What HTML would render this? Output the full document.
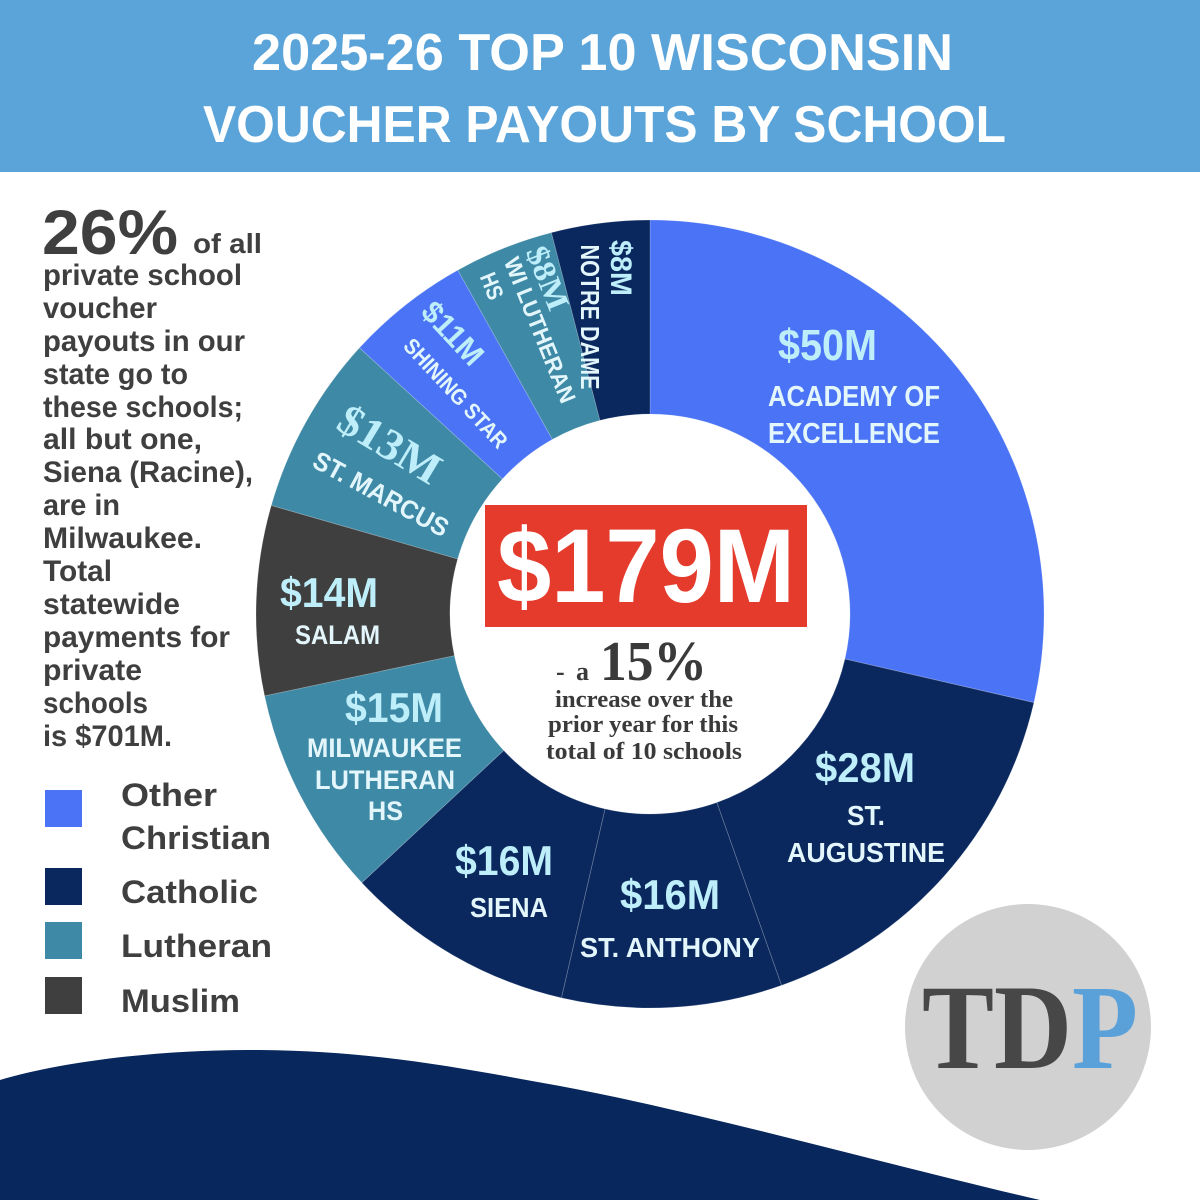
<!DOCTYPE html>
<html>
<head>
<meta charset="utf-8">
<style>
  html,body{margin:0;padding:0;background:#ffffff;}
  svg{display:block;}
  .sans{font-family:"Liberation Sans", Arial, sans-serif;font-weight:bold;}
  .serif{font-family:"Liberation Serif", "Times New Roman", serif;font-weight:bold;}
</style>
</head>
<body>
<svg width="1200" height="1200" viewBox="0 0 1200 1200" xmlns="http://www.w3.org/2000/svg">
  <rect x="0" y="0" width="1200" height="1200" fill="#ffffff"/>

  <!-- Header -->
  <rect x="0" y="0" width="1200" height="172" fill="#5aa4d9"/>
  <text class="sans" x="252" y="70" font-size="52" fill="#ffffff" textLength="701" lengthAdjust="spacingAndGlyphs">2025-26 TOP 10 WISCONSIN</text>
  <text class="sans" x="203" y="142" font-size="52" fill="#ffffff" textLength="803" lengthAdjust="spacingAndGlyphs">VOUCHER PAYOUTS BY SCHOOL</text>

  <!-- Bottom wave -->
  <path d="M0,1080 C60,1062 160,1049 260,1050 C380,1051 470,1070 560,1086 C700,1112 900,1168 1040,1200 L0,1200 Z" fill="#07275d"/>

  <!-- TDP logo -->
  <circle cx="1028" cy="1027" r="123" fill="#d1d1d1"/>
  <text class="serif" x="922" y="1068" font-size="121" fill="#474747" textLength="216" lengthAdjust="spacingAndGlyphs">TD<tspan fill="#5aa1da">P</tspan></text>

  <!-- Donut slices -->
  <g stroke="#ffffff" stroke-opacity="0.22" stroke-width="0.8">
    <path d="M650,220 A394,394 0 0 1 1033.9,702.6 L844.9,659.0 A200,200 0 0 0 650,414 Z" fill="#4a73f5"/>
    <path d="M1033.9,702.6 A394,394 0 0 1 781.5,985.4 L716.8,802.5 A200,200 0 0 0 844.9,659.0 Z" fill="#0a285e"/>
    <path d="M781.5,985.4 A394,394 0 0 1 561.4,997.9 L605.0,808.9 A200,200 0 0 0 716.8,802.5 Z" fill="#0a285e"/>
    <path d="M561.4,997.9 A394,394 0 0 1 361.8,882.7 L503.7,750.4 A200,200 0 0 0 605.0,808.9 Z" fill="#0a285e"/>
    <path d="M361.8,882.7 A394,394 0 0 1 264.6,695.9 L454.4,655.6 A200,200 0 0 0 503.7,750.4 Z" fill="#3e89a5"/>
    <path d="M264.6,695.9 A394,394 0 0 1 271.3,505.4 L457.7,558.9 A200,200 0 0 0 454.4,655.6 Z" fill="#3f3f3f"/>
    <path d="M271.3,505.4 A394,394 0 0 1 359.5,347.8 L502.5,478.9 A200,200 0 0 0 457.7,558.9 Z" fill="#3e89a5"/>
    <path d="M359.5,347.8 A394,394 0 0 1 457.8,270.1 L552.4,439.4 A200,200 0 0 0 502.5,478.9 Z" fill="#4a73f5"/>
    <path d="M457.8,270.1 A394,394 0 0 1 551.4,232.6 L599.9,420.4 A200,200 0 0 0 552.4,439.4 Z" fill="#3e89a5"/>
    <path d="M551.4,232.6 A394,394 0 0 1 650,220 L650,414 A200,200 0 0 0 599.9,420.4 Z" fill="#0a285e"/>
  </g>

  <!-- Slice labels (horizontal) -->
  <g class="sans">
    <text x="778" y="360" font-size="44" fill="#bdeefa" textLength="99" lengthAdjust="spacingAndGlyphs">$50M</text>
    <text x="768" y="406" font-size="29" fill="#e3f6fb" textLength="172" lengthAdjust="spacingAndGlyphs">ACADEMY OF</text>
    <text x="768" y="443" font-size="29" fill="#e3f6fb" textLength="172" lengthAdjust="spacingAndGlyphs">EXCELLENCE</text>

    <text x="815" y="782" font-size="42" fill="#bdeefa" textLength="100" lengthAdjust="spacingAndGlyphs">$28M</text>
    <text x="847" y="825" font-size="28" fill="#e3f6fb" textLength="38" lengthAdjust="spacingAndGlyphs">ST.</text>
    <text x="787" y="862" font-size="28" fill="#e3f6fb" textLength="158" lengthAdjust="spacingAndGlyphs">AUGUSTINE</text>

    <text x="620" y="909" font-size="42" fill="#bdeefa" textLength="100" lengthAdjust="spacingAndGlyphs">$16M</text>
    <text x="580" y="957" font-size="28" fill="#e3f6fb" textLength="180" lengthAdjust="spacingAndGlyphs">ST. ANTHONY</text>

    <text x="455" y="875" font-size="42" fill="#bdeefa" textLength="98" lengthAdjust="spacingAndGlyphs">$16M</text>
    <text x="470" y="917" font-size="28" fill="#e3f6fb" textLength="78" lengthAdjust="spacingAndGlyphs">SIENA</text>

    <text x="345" y="722" font-size="42" fill="#bdeefa" textLength="98" lengthAdjust="spacingAndGlyphs">$15M</text>
    <text x="307" y="757" font-size="27" fill="#e3f6fb" textLength="155" lengthAdjust="spacingAndGlyphs">MILWAUKEE</text>
    <text x="315" y="789" font-size="27" fill="#e3f6fb" textLength="140" lengthAdjust="spacingAndGlyphs">LUTHERAN</text>
    <text x="368" y="820" font-size="27" fill="#e3f6fb" textLength="35" lengthAdjust="spacingAndGlyphs">HS</text>

    <text x="280" y="607" font-size="42" fill="#bdeefa" textLength="98" lengthAdjust="spacingAndGlyphs">$14M</text>
    <text x="295" y="644" font-size="27" fill="#e3f6fb" textLength="85" lengthAdjust="spacingAndGlyphs">SALAM</text>
  </g>

  <!-- Rotated labels -->
  <g transform="translate(622,268) rotate(90)">
    <text class="sans" x="0" y="11" text-anchor="middle" font-size="30" fill="#bdeefa" textLength="56" lengthAdjust="spacingAndGlyphs">$8M</text>
  </g>
  <g transform="translate(590,317) rotate(90)">
    <text class="sans" x="0" y="9" text-anchor="middle" font-size="26" fill="#e3f6fb" textLength="145" lengthAdjust="spacingAndGlyphs">NOTRE DAME</text>
  </g>

  <g transform="translate(548,278) rotate(68)">
    <text class="serif" x="0" y="11" text-anchor="middle" font-size="32" fill="#bdeefa" textLength="66" lengthAdjust="spacingAndGlyphs">$8M</text>
  </g>
  <g transform="translate(540,330) rotate(68)">
    <text class="sans" x="0" y="8" text-anchor="middle" font-size="23" fill="#e3f6fb" textLength="155" lengthAdjust="spacingAndGlyphs">WI LUTHERAN</text>
  </g>
  <g transform="translate(492,286) rotate(68)">
    <text class="sans" x="0" y="8" text-anchor="middle" font-size="23" fill="#e3f6fb" textLength="27" lengthAdjust="spacingAndGlyphs">HS</text>
  </g>

  <g transform="translate(453,333) rotate(47)">
    <text class="sans" x="0" y="11" text-anchor="middle" font-size="31" fill="#bdeefa" textLength="75" lengthAdjust="spacingAndGlyphs">$11M</text>
  </g>
  <g transform="translate(456,393) rotate(47)">
    <text class="sans" x="0" y="8" text-anchor="middle" font-size="22" fill="#e3f6fb" textLength="141" lengthAdjust="spacingAndGlyphs">SHINING STAR</text>
  </g>

  <g transform="translate(390,444) rotate(31)">
    <text class="serif" x="0" y="15" text-anchor="middle" font-size="44" fill="#bdeefa" textLength="112" lengthAdjust="spacingAndGlyphs">$13M</text>
  </g>
  <g transform="translate(381,494) rotate(28.5)">
    <text class="sans" x="0" y="9" text-anchor="middle" font-size="26" fill="#e3f6fb" textLength="150" lengthAdjust="spacingAndGlyphs">ST. MARCUS</text>
  </g>

  <!-- Center -->
  <rect x="485" y="505" width="322" height="122" fill="#e43b2c"/>
  <text class="sans" x="497" y="602" font-size="105" fill="#ffffff" textLength="298" lengthAdjust="spacingAndGlyphs">$179M</text>

  <g class="serif" fill="#3a3a3a">
    <text x="556" y="680" font-size="26">-</text>
    <text x="576" y="680" font-size="26">a</text>
    <text x="600" y="680" font-size="56" textLength="107" lengthAdjust="spacingAndGlyphs">15%</text>
    <text x="555" y="707" font-size="24.5" textLength="178" lengthAdjust="spacingAndGlyphs">increase over the</text>
    <text x="548" y="732" font-size="24.5" textLength="190" lengthAdjust="spacingAndGlyphs">prior year for this</text>
    <text x="546" y="759" font-size="24.5" textLength="196" lengthAdjust="spacingAndGlyphs">total of 10 schools</text>
  </g>

  <!-- Left text block -->
  <g class="sans" fill="#3f3f3f">
    <text x="42" y="254" font-size="63" textLength="136" lengthAdjust="spacingAndGlyphs">26%</text>
    <text x="193" y="253" font-size="28" textLength="69" lengthAdjust="spacingAndGlyphs">of all</text>
    <text x="43" y="285" font-size="30" textLength="199" lengthAdjust="spacingAndGlyphs">private school</text>
    <text x="43" y="318" font-size="30" textLength="114" lengthAdjust="spacingAndGlyphs">voucher</text>
    <text x="43" y="351" font-size="30" textLength="202" lengthAdjust="spacingAndGlyphs">payouts in our</text>
    <text x="43" y="384" font-size="30" textLength="145" lengthAdjust="spacingAndGlyphs">state go to</text>
    <text x="43" y="417" font-size="30" textLength="200" lengthAdjust="spacingAndGlyphs">these schools;</text>
    <text x="43" y="449" font-size="30" textLength="159" lengthAdjust="spacingAndGlyphs">all but one,</text>
    <text x="43" y="482" font-size="30" textLength="210" lengthAdjust="spacingAndGlyphs">Siena (Racine),</text>
    <text x="43" y="515" font-size="30" textLength="77" lengthAdjust="spacingAndGlyphs">are in</text>
    <text x="43" y="548" font-size="30" textLength="159" lengthAdjust="spacingAndGlyphs">Milwaukee.</text>
    <text x="43" y="581" font-size="30" textLength="69" lengthAdjust="spacingAndGlyphs">Total</text>
    <text x="43" y="614" font-size="30" textLength="137" lengthAdjust="spacingAndGlyphs">statewide</text>
    <text x="43" y="647" font-size="30" textLength="187" lengthAdjust="spacingAndGlyphs">payments for</text>
    <text x="43" y="680" font-size="30" textLength="99" lengthAdjust="spacingAndGlyphs">private</text>
    <text x="43" y="713" font-size="30" textLength="105" lengthAdjust="spacingAndGlyphs">schools</text>
    <text x="43" y="746" font-size="30" textLength="129" lengthAdjust="spacingAndGlyphs">is $701M.</text>
  </g>

  <!-- Legend -->
  <rect x="45" y="790" width="37" height="37" fill="#4a73f5"/>
  <rect x="45" y="868" width="37" height="37" fill="#0a285e"/>
  <rect x="45" y="922" width="37" height="37" fill="#3e89a5"/>
  <rect x="45" y="977" width="37" height="37" fill="#3f3f3f"/>
  <g class="sans" fill="#3f3f3f" font-size="32">
    <text x="121" y="806" textLength="96" lengthAdjust="spacingAndGlyphs">Other</text>
    <text x="121" y="849" textLength="150" lengthAdjust="spacingAndGlyphs">Christian</text>
    <text x="121" y="903" textLength="137" lengthAdjust="spacingAndGlyphs">Catholic</text>
    <text x="121" y="957" textLength="151" lengthAdjust="spacingAndGlyphs">Lutheran</text>
    <text x="121" y="1012" textLength="119" lengthAdjust="spacingAndGlyphs">Muslim</text>
  </g>
</svg>
</body>
</html>
